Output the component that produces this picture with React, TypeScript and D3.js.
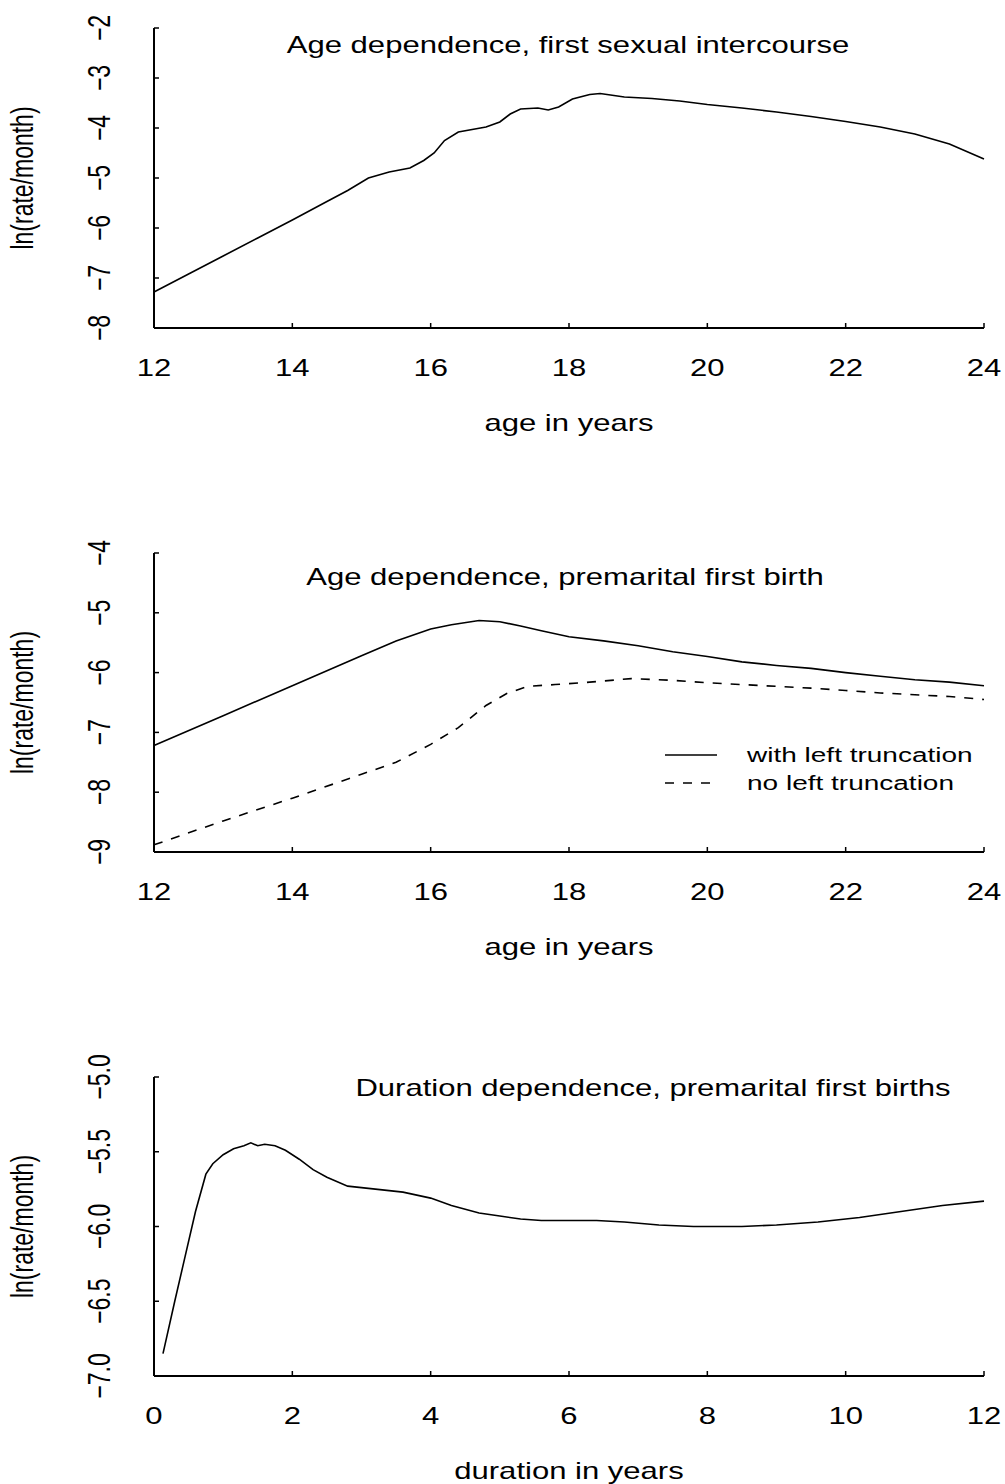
import React from "react";
import * as d3 from "d3";

// panel 1: age dependence, first sexual intercourse
const ageSex = [12, 12.5, 13, 13.5, 14, 14.5, 14.8, 15.1, 15.4, 15.7, 15.9, 16.05, 16.2, 16.4, 16.8, 17.0, 17.15, 17.3, 17.55, 17.7, 17.85, 18.05, 18.3, 18.45, 18.6, 18.8, 19.2, 19.6, 20, 20.5, 21, 21.5, 22, 22.5, 23, 23.5, 24];
const rateSex = [-7.28, -6.92, -6.56, -6.2, -5.84, -5.47, -5.25, -5.0, -4.88, -4.8, -4.65, -4.5, -4.25, -4.08, -3.98, -3.88, -3.72, -3.62, -3.6, -3.64, -3.58, -3.42, -3.33, -3.31, -3.34, -3.38, -3.41, -3.46, -3.53, -3.6, -3.68, -3.77, -3.87, -3.98, -4.12, -4.32, -4.62];

// panel 2: age dependence, premarital first birth
const ageBirthWith = [12, 13, 14, 15, 15.5, 16, 16.3, 16.7, 17, 17.3, 17.6, 18, 18.5, 19, 19.5, 20, 20.5, 21, 21.5, 22, 22.5, 23, 23.5, 24];
const rateBirthWith = [-7.22, -6.72, -6.22, -5.72, -5.47, -5.27, -5.2, -5.13, -5.15, -5.22, -5.3, -5.4, -5.47, -5.55, -5.65, -5.73, -5.82, -5.88, -5.93, -6.0, -6.06, -6.12, -6.16, -6.22];
const ageBirthNo = [12, 13, 14, 15, 15.5, 16, 16.4, 16.8, 17.1, 17.4, 17.8, 18.3, 18.9, 19.5, 20, 20.5, 21, 21.5, 22, 22.5, 23, 23.5, 24];
const rateBirthNo = [-8.88, -8.48, -8.1, -7.7, -7.5, -7.2, -6.92, -6.55, -6.35, -6.23, -6.2, -6.16, -6.1, -6.13, -6.17, -6.2, -6.23, -6.26, -6.3, -6.34, -6.37, -6.4, -6.45];

// panel 3: duration dependence
const duration = [0.13, 0.3, 0.45, 0.6, 0.75, 0.85, 1.0, 1.15, 1.3, 1.4, 1.5, 1.6, 1.75, 1.9, 2.1, 2.3, 2.5, 2.8, 3.2, 3.6, 4.0, 4.3, 4.7, 5.0, 5.3, 5.6, 6.0, 6.4, 6.8, 7.3, 7.8, 8.5, 9.0, 9.6, 10.2, 10.8, 11.4, 12.0];
const rateDur = [-6.85, -6.5, -6.2, -5.9, -5.65, -5.58, -5.52, -5.48, -5.46, -5.44, -5.46, -5.45, -5.46, -5.49, -5.55, -5.62, -5.67, -5.73, -5.75, -5.77, -5.81, -5.86, -5.91, -5.93, -5.95, -5.96, -5.96, -5.96, -5.97, -5.99, -6.0, -6.0, -5.99, -5.97, -5.94, -5.9, -5.86, -5.83];

const ageTicks = [12, 14, 16, 18, 20, 22, 24];
const durTicks = [0, 2, 4, 6, 8, 10, 12];

const FONT = "'Liberation Sans', Arial, Helvetica, sans-serif";
const SX = 1.35; // text in the figure is stretched horizontally

const zip = (xs: number[], ys: number[]) => xs.map((x, i) => [x, ys[i]] as [number, number]);

type Series = { pts: [number, number][]; dash?: string };
type PanelDef = {
  xDomain: [number, number];
  yDomain: [number, number];
  top: number;
  bottom: number;
  xTicks: number[];
  yTicks: number[];
  yFmt: (v: number) => string;
  title: string;
  titleX: number;
  titleY: number;
  xLabel: string;
  series: Series[];
  legend?: boolean;
};

const left = 154;
const right = 984;

const panels: PanelDef[] = [
  {
    xDomain: [12, 24], yDomain: [-8, -2], top: 28, bottom: 328,
    xTicks: ageTicks, yTicks: d3.range(-8, -1, 1), yFmt: d3.format("d"),
    title: "Age dependence, first sexual intercourse", titleX: 568, titleY: 53,
    xLabel: "age in years",
    series: [{ pts: zip(ageSex, rateSex) }],
  },
  {
    xDomain: [12, 24], yDomain: [-9, -4], top: 553, bottom: 852,
    xTicks: ageTicks, yTicks: d3.range(-9, -3, 1), yFmt: d3.format("d"),
    title: "Age dependence, premarital first birth", titleX: 565, titleY: 585,
    xLabel: "age in years",
    series: [
      { pts: zip(ageBirthWith, rateBirthWith) },
      { pts: zip(ageBirthNo, rateBirthNo), dash: "9,9" },
    ],
    legend: true,
  },
  {
    xDomain: [0, 12], yDomain: [-7, -5], top: 1077, bottom: 1376,
    xTicks: durTicks, yTicks: d3.range(-7, -4.9, 0.5), yFmt: d3.format(".1f"),
    title: "Duration dependence, premarital first births", titleX: 653, titleY: 1096,
    xLabel: "duration in years",
    series: [{ pts: zip(duration, rateDur) }],
  },
];

function Panel({ p }: { p: PanelDef }) {
  const x = d3.scaleLinear().domain(p.xDomain).range([left, right]);
  const y = d3.scaleLinear().domain(p.yDomain).range([p.bottom, p.top]);
  const line = d3.line<[number, number]>().x(d => x(d[0])).y(d => y(d[1]));
  const mid = (p.top + p.bottom) / 2;
  return (
    <g>
      {/* axes */}
      <line x1={left} x2={left} y1={p.top} y2={p.bottom} stroke="#000" strokeWidth={2} />
      <line x1={left} x2={right} y1={p.bottom} y2={p.bottom} stroke="#000" strokeWidth={2} />
      {p.xTicks.map(t => (
        <g key={"x" + t}>
          <line x1={x(t)} x2={x(t)} y1={p.bottom} y2={p.bottom - 5} stroke="#000" strokeWidth={1.5} />
          <text transform={`translate(${x(t)},${p.bottom + 48}) scale(${SX},1)`} textAnchor="middle">{t}</text>
        </g>
      ))}
      {p.yTicks.map(t => (
        <g key={"y" + t}>
          <line x1={left} x2={left + 5} y1={y(t)} y2={y(t)} stroke="#000" strokeWidth={1.5} />
          <text transform={`translate(110,${y(t)}) scale(${SX},1) rotate(-90)`} textAnchor="middle">{p.yFmt(t)}</text>
        </g>
      ))}
      <text transform={`translate(33,${mid}) scale(${SX},1) rotate(-90)`} textAnchor="middle">ln(rate/month)</text>
      <text transform={`translate(${(left + right) / 2},${p.bottom + 103}) scale(${SX},1)`} textAnchor="middle">{p.xLabel}</text>
      <text transform={`translate(${p.titleX},${p.titleY}) scale(${SX},1)`} textAnchor="middle">{p.title}</text>
      {p.series.map((s, i) => (
        <path key={i} d={line(s.pts) || ""} fill="none" stroke="#000" strokeWidth={1.6} strokeDasharray={s.dash} />
      ))}
      {p.legend && (
        <g fontSize={20}>
          <line x1={665} x2={717} y1={755} y2={755} stroke="#000" strokeWidth={1.5} />
          <text transform={`translate(747,762) scale(1.4,1)`}>with left truncation</text>
          <line x1={665} x2={717} y1={783} y2={783} stroke="#000" strokeWidth={1.5} strokeDasharray="9,9" />
          <text transform={`translate(747,790) scale(1.4,1)`}>no left truncation</text>
        </g>
      )}
    </g>
  );
}

export default function App() {
  return (
    <svg width={1005} height={1484} style={{ position: "absolute", left: 0, top: 0, background: "#fff" }}
      fontFamily={FONT} fontSize={23}>
      <rect width={1005} height={1484} fill="#fff" />
      {panels.map((p, i) => <Panel key={i} p={p} />)}
    </svg>
  );
}
